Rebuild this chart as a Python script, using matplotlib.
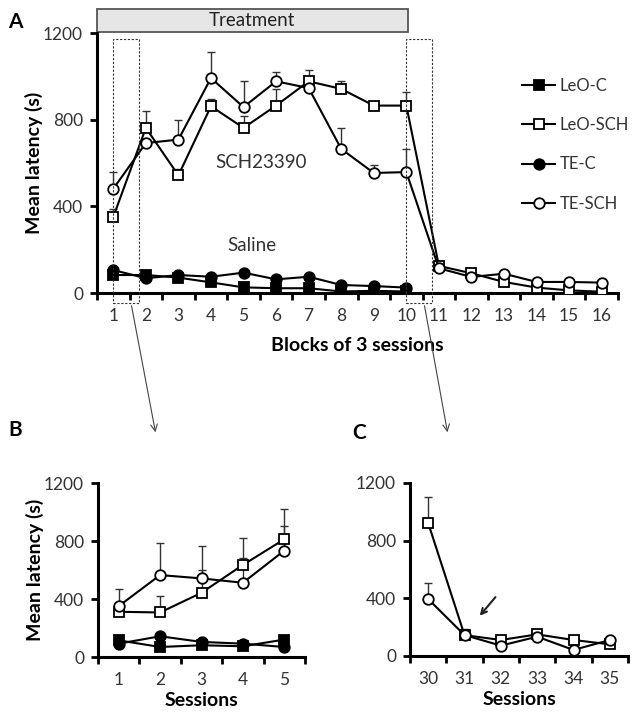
import numpy as np
import matplotlib.pyplot as plt
from matplotlib.patches import Rectangle, FancyArrowPatch

plt.rcParams['font.family'] = ['Lato', 'DejaVu Sans']

# =========================
# Data
# =========================
blocks = np.arange(1, 17)
leo_sch = [351, 762, 543, 862, 762, 865, 977, 942, 865, 865, 125, 91, 51, 25, 12, 6]
leo_sch_err = [38, 76, 30, 33, 56, 76, 51, 35, 10, 61, 0, 0, 0, 0, 0, 0]
te_sch = [481, 692, 708, 992, 858, 977, 946, 665, 554, 558, 114, 74, 89, 51, 51, 48]
te_sch_err = [76, 20, 89, 119, 119, 41, 20, 97, 38, 107, 0, 0, 0, 0, 0, 0]
ctrl_blocks = np.arange(1, 11)
leo_c = [83, 83, 71, 49, 26, 22, 22, 7, 10, 7]
te_c = [106, 68, 83, 75, 94, 63, 75, 37, 32, 25]

sessions_b = np.arange(1, 6)
b_leo_sch = [312, 307, 443, 635, 812]
b_leo_sch_err = [0, 113, 157, 184, 208]
b_te_sch = [351, 565, 542, 512, 734]
b_te_sch_err = [115, 224, 224, 169, 171]
b_leo_c = [115, 69, 81, 74, 120]
b_te_c = [92, 143, 104, 92, 69]

sessions_c = np.arange(30, 36)
c_leo_sch = [923, 145, 111, 150, 111, 81]
c_leo_sch_err = [180, 40, 0, 0, 0, 0]
c_te_sch = [395, 145, 72, 134, 42, 111]
c_te_sch_err = [108, 20, 0, 0, 0, 0]

LW = 1.5
SQ = dict(marker='s', ms=6.8, mew=1.3, color='black', lw=LW)
CI = dict(marker='o', ms=7.6, mew=1.3, color='black', lw=LW)
TXT = '#333333'


def series(ax, x, y, style, filled, err=None, label=None):
    if err is not None:
        ax.errorbar(x, y, yerr=[np.zeros(len(err)), err], fmt='none',
                    ecolor='#333333', elinewidth=1.0, capsize=3, capthick=1.0, zorder=2)
    ax.plot(x, y, mfc='black' if filled else 'white', mec='black',
            label=label, zorder=3, **style)


def style_axis(ax, xlo, xhi, labels):
    ax.set_ylim(0, 1200)
    ax.set_yticks([0, 400, 800, 1200])
    ax.set_xlim(xlo - 0.5, xhi + 0.5)
    ax.set_xticks(np.arange(xlo, xhi + 1))
    ax.set_xticklabels(labels)
    ax.set_xticks(np.arange(xlo - 0.5, xhi + 1), minor=True)
    ax.tick_params(axis='x', which='major', length=0, pad=11, labelsize=12.5, colors=TXT)
    ax.tick_params(axis='x', which='minor', length=5, width=2, direction='out')
    ax.tick_params(axis='y', length=5, width=2, labelsize=12.5, colors=TXT, pad=5)
    ax.tick_params(axis='both', color='black')
    for s in ['top', 'right']:
        ax.spines[s].set_visible(False)
    for s in ['left', 'bottom']:
        ax.spines[s].set_linewidth(2.2)


fig = plt.figure(figsize=(6.38, 7.17), dpi=100)
W, H = 638, 717


def fig_ax(l, r, t, b):
    return fig.add_axes([l / W, 1 - b / H, (r - l) / W, (b - t) / H])


# =========================
# Panel A
# =========================
axA = fig_ax(97, 618, 33, 293)
series(axA, ctrl_blocks, leo_c, SQ, True, label='LeO-C')
series(axA, blocks, leo_sch, SQ, False, leo_sch_err, label='LeO-SCH')
series(axA, ctrl_blocks, te_c, CI, True, label='TE-C')
series(axA, blocks, te_sch, CI, False, te_sch_err, label='TE-SCH')
style_axis(axA, 1, 16, [str(i) for i in blocks])
axA.set_ylabel('Mean latency (s)', fontsize=14, fontweight='bold', labelpad=0)
axA.set_xlabel('Blocks of 3 sessions', fontsize=14, fontweight='bold', labelpad=9)
axA.text(5.55, 600, 'SCH23390', fontsize=13.5, color=TXT, ha='center', va='center')
axA.text(5.25, 217, 'Saline', fontsize=13.5, color=TXT, ha='center', va='center')

# treatment bar
axA.add_patch(Rectangle((0.5, 1205), 9.55, 105, facecolor='#e6e6e6', edgecolor='#555555',
                        lw=1.3, clip_on=False, zorder=1))
axA.text(5.27, 1258, 'Treatment', fontsize=13.5, color='#222222', ha='center', va='center')

# dashed zoom boxes
for x0 in [1.0, 10.0]:
    axA.add_patch(Rectangle((x0, -46), 0.8, 1218, fill=False, ls=(0, (2, 1.5)),
                            lw=0.8, edgecolor='#333333', clip_on=False, zorder=4))

leg = axA.legend(loc='upper left', bbox_to_anchor=(0.80, 0.86), frameon=False,
                 fontsize=12, handlelength=2.0, handletextpad=0.25,
                 labelspacing=1.4, borderpad=0)
for t in leg.get_texts():
    t.set_color(TXT)

# =========================
# Panel B
# =========================
axB = fig_ax(98, 305, 483, 657)
series(axB, sessions_b, b_leo_c, SQ, True)
series(axB, sessions_b, b_te_c, CI, True)
series(axB, sessions_b, b_leo_sch, SQ, False, b_leo_sch_err)
series(axB, sessions_b, b_te_sch, CI, False, b_te_sch_err)
style_axis(axB, 1, 5, [str(i) for i in sessions_b])
axB.set_ylabel('Mean latency (s)', fontsize=14, fontweight='bold', labelpad=0)
axB.set_xlabel('Sessions', fontsize=14, fontweight='bold', labelpad=3)

# =========================
# Panel C
# =========================
axC = fig_ax(410, 628, 483, 656)
series(axC, sessions_c, c_leo_sch, SQ, False, c_leo_sch_err)
series(axC, sessions_c, c_te_sch, CI, False, c_te_sch_err)
style_axis(axC, 30, 35, [str(i) for i in sessions_c])
axC.set_xlabel('Sessions', fontsize=14, fontweight='bold', labelpad=3)
axC.annotate('', xy=(31.37, 264), xytext=(31.9, 423),
             arrowprops=dict(arrowstyle='->', color='#222222', lw=1.5))

# panel letters
fig.text(8 / W, 1 - 22 / H, 'A', fontsize=15, fontweight='bold', va='center')
fig.text(8 / W, 1 - 430 / H, 'B', fontsize=15, fontweight='bold', va='center')
fig.text(352 / W, 1 - 433 / H, 'C', fontsize=15, fontweight='bold', va='center')

# connecting arrows
for (x0, x1) in [(131, 156), (424, 448)]:
    fig.add_artist(FancyArrowPatch((x0 / W, 1 - 303 / H), (x1 / W, 1 - 435 / H),
                                   transform=fig.transFigure, arrowstyle='->',
                                   mutation_scale=12, lw=0.8, color='#444444'))

fig.savefig('out.png', dpi=100)
